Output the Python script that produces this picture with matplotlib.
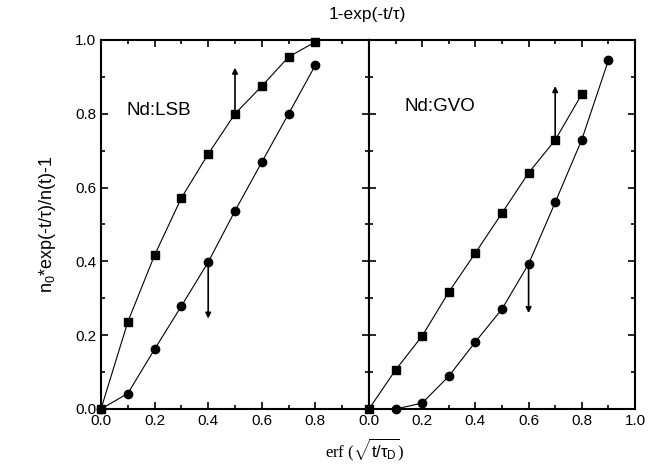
import numpy as np
import matplotlib
matplotlib.use("Agg")
import matplotlib.pyplot as plt
from matplotlib.ticker import MultipleLocator

plt.rcParams['font.family'] = ['Liberation Sans', 'DejaVu Sans']
plt.rcParams['mathtext.fontset'] = 'custom'
plt.rcParams['mathtext.rm'] = 'Liberation Sans'
plt.rcParams['mathtext.it'] = 'Liberation Sans'

# Nd:LSB
lsb_sq_x = [0.0, 0.1, 0.2, 0.3, 0.4, 0.5, 0.6, 0.7, 0.8]
lsb_sq_y = [0.0, 0.236, 0.417, 0.572, 0.691, 0.80, 0.875, 0.954, 0.995]
lsb_ci_x = [0.0, 0.1, 0.2, 0.3, 0.4, 0.5, 0.6, 0.7, 0.8]
lsb_ci_y = [0.0, 0.042, 0.162, 0.279, 0.398, 0.537, 0.669, 0.80, 0.932]

# Nd:GVO
gvo_sq_x = [0.0, 0.1, 0.2, 0.3, 0.4, 0.5, 0.6, 0.7, 0.8]
gvo_sq_y = [0.0, 0.106, 0.198, 0.317, 0.423, 0.531, 0.64, 0.729, 0.853]
gvo_ci_x = [0.1, 0.2, 0.3, 0.4, 0.5, 0.6, 0.7, 0.8, 0.9]
gvo_ci_y = [0.0, 0.016, 0.089, 0.182, 0.271, 0.393, 0.56, 0.73, 0.945]

# arrows: (x, y_start, y_end)
lsb_arrows = [(0.5, 0.80, 0.925), (0.4, 0.398, 0.245)]
gvo_arrows = [(0.7, 0.729, 0.875), (0.6, 0.393, 0.26)]

W, H = 657, 468
fig = plt.figure(figsize=(W / 100, H / 100), dpi=100)
ax1 = fig.add_axes([101 / W, (H - 409) / H, 268 / W, 369 / H])
ax2 = fig.add_axes([369 / W, (H - 409) / H, 266 / W, 369 / H])


def draw_panel(ax, sq_x, sq_y, ci_x, ci_y, arrows, name, name_xy):
    ax.plot(sq_x, sq_y, color='black', lw=0.8, marker='s', ms=6, mfc='black',
            mec='black', clip_on=False, zorder=3)
    ax.plot(ci_x, ci_y, color='black', lw=0.8, marker='o', ms=6, mfc='black',
            mec='black', clip_on=False, zorder=3)
    for x, y0, y1 in arrows:
        ax.annotate('', xy=(x, y1), xytext=(x, y0),
                    arrowprops=dict(arrowstyle='-|>', color='black', lw=1.2,
                                    mutation_scale=8, shrinkA=0, shrinkB=0))
    ax.text(name_xy[0], name_xy[1], name, fontsize=13.5, va='center', ha='left')
    ax.set_xlim(0, 1.0)
    ax.set_ylim(0, 1.0)
    ax.xaxis.set_major_locator(MultipleLocator(0.2))
    ax.xaxis.set_minor_locator(MultipleLocator(0.1))
    ax.yaxis.set_major_locator(MultipleLocator(0.2))
    ax.yaxis.set_minor_locator(MultipleLocator(0.1))
    ax.tick_params(which='both', direction='in', top=True, right=True,
                   labelsize=11, width=1.2)
    ax.tick_params(which='major', length=5)
    ax.tick_params(which='minor', length=3)
    for s in ax.spines.values():
        s.set_linewidth(1.5)


draw_panel(ax1, lsb_sq_x, lsb_sq_y, lsb_ci_x, lsb_ci_y, lsb_arrows,
           'Nd:LSB', (0.095, 0.81))
draw_panel(ax2, gvo_sq_x, gvo_sq_y, gvo_ci_x, gvo_ci_y, gvo_arrows,
           'Nd:GVO', (0.135, 0.82))

ax1.set_xticks([0.0, 0.2, 0.4, 0.6, 0.8, 1.0])
ax1.set_xticklabels(['0.0', '0.2', '0.4', '0.6', '0.8', ''])
ax2.set_yticklabels([])

ax1.set_ylabel('n$_0$*exp(-t/τ)/n(t)-1', fontsize=13, labelpad=12)
fig.text(365 / W, 1 - 450 / H, r'erf ($\sqrt{\mathrm{t}/\tau_\mathrm{D}}$)',
         ha='center', va='center', fontsize=12,
         family=['Liberation Serif', 'DejaVu Serif'])
fig.text(367 / W, 1 - 15 / H, '1-exp(-t/τ)', ha='center', va='center',
         fontsize=12.5)

fig.savefig('out.png', dpi=100)
